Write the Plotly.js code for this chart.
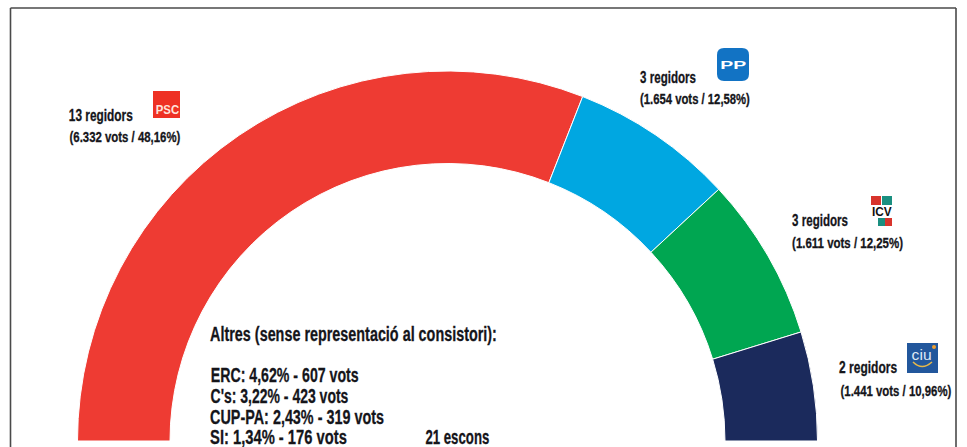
<!DOCTYPE html>
<html><head><meta charset="utf-8">
<script src="https://cdn.plot.ly/plotly-3.0.1.min.js"></script>
<style>html,body{margin:0;padding:0;width:967px;height:447px;overflow:hidden;background:#fff}</style>
</head><body><div id="c" style="width:967px;height:882px"></div>
<script>
const parties=['PSC','PP','ICV','CiU'];
const seats=[13,3,3,2];
const colors=['#ee3b33','#00a7e1','#00a651','#1b2a5c'];
const seatLabels=['13 regidors','3 regidors','3 regidors','2 regidors'];
const voteLabels=['(6.332 vots / 48,16%)','(1.654 vots / 12,58%)','(1.611 vots / 12,25%)','(1.441 vots / 10,96%)'];
const othersTitle='Altres (sense representació al consistori):';
const others=['ERC: 4,62% - 607 vots',"C's: 3,22% - 423 vots",'CUP-PA: 2,43% - 319 vots','SI: 1,34% - 176 vots'];
const totalLabel='21 escons';
const total=seats.reduce((a,b)=>a+b,0);

const W=967,H=882;
const px=x=>x/W, py=y=>1-y/H;
const FONT='"Liberation Sans",Arial,sans-serif';
const ink='#15151a';
const condensed=[];
const heavy=[];
// text placed by its left edge and its printed width; squeezed to that width after drawing
function note(text,left,width,y,size){
  condensed.push(width);heavy.push(true);
  return {text:text,x:px(left+width/2),y:py(y),xref:'paper',yref:'paper',xanchor:'center',yanchor:'middle',
    showarrow:false,borderpad:0,font:{family:FONT,size:size,color:ink,weight:700}};
}
function logoText(text,cx,y,size,color,weight,width){
  condensed.push(width);heavy.push(false);
  return {text:text,x:px(cx),y:py(y),xref:'paper',yref:'paper',xanchor:'center',yanchor:'middle',
    showarrow:false,borderpad:0,font:{family:FONT,size:size,color:color,weight:weight}};
}
function rect(x0,y0,x1,y1,fill){
  return {type:'rect',xref:'paper',yref:'paper',x0:px(x0),x1:px(x1),y0:py(y0),y1:py(y1),fillcolor:fill,line:{width:0},layer:'below'};
}
function frame(x0,y0,x1,y1){
  return {type:'line',xref:'paper',yref:'paper',x0:px(x0),x1:px(x1),y0:py(y0),y1:py(y1),line:{color:'#4a4a4a',width:1.6}};
}
const seatPos=[[69,64,115],[640,56,77],[792,56,220],[839,58,367]];
const votePos=[[69,111,136],[640,110,98],[792,111,242],[840,111,390]];
const otherPos=[[210,148,375],[210,138,395],[210,174,416],[210,137,437]];
const annotations=[];
parties.forEach((p,i)=>{
  annotations.push(note(seatLabels[i],seatPos[i][0],seatPos[i][1],seatPos[i][2],17));
  annotations.push(note(voteLabels[i],votePos[i][0],votePos[i][1],votePos[i][2],15));
});
annotations.push(note(othersTitle,210,287,333,21));
others.forEach((t,i)=>annotations.push(note(t,otherPos[i][0],otherPos[i][1],otherPos[i][2],21)));
annotations.push(note(totalLabel,425,64,437,20));
annotations.push(logoText('PSC',167,110,13,'#ffe3da',700,24));
annotations.push(logoText('PP',733,65,11,'#ffffff',700,26));
annotations.push(logoText('ICV',882,211,13,'#111111',700,20));
annotations.push(logoText('ciu',921,355,15,'#dfe9f5',400,20));

const P=(x,y)=>px(x)+' '+py(y);
const shapes=[
  frame(10.5,8,956,8),frame(10.5,8,10.5,447),frame(956,8,956,447),
  rect(153,91,180,118,'#ee3124'),
  {type:'path',xref:'paper',yref:'paper',layer:'below',fillcolor:'#1273c4',line:{width:0},
   path:'M '+P(724,48)+' L '+P(742,48)+' Q '+P(749,48)+' '+P(749,55)+' L '+P(749,74)+' Q '+P(749,81)+' '+P(742,81)+' L '+P(724,81)+' Q '+P(717,81)+' '+P(717,74)+' L '+P(717,55)+' Q '+P(717,48)+' '+P(724,48)+' Z'},
  rect(871,196,881,205,'#d8342c'),rect(882,196,892,205,'#1a8f80'),
  rect(872,218,878,226,'#ffffff'),rect(878,218,885,226,'#1a8f80'),rect(885,218,892,226,'#d8342c'),
  rect(907,343,938,373,'#22579c'),
  {type:'path',xref:'paper',yref:'paper',fillcolor:'rgba(0,0,0,0)',line:{color:'#e6b84a',width:1.5},
   path:'M '+P(913,362)+' Q '+P(922,371)+' '+P(932,362)},
  {type:'circle',xref:'paper',yref:'paper',x0:px(932),x1:px(936),y0:py(345),y1:py(349),fillcolor:'#f0a030',line:{width:0}}
];

const values=seats.concat([total]);
const sliceColors=colors.concat(['rgba(0,0,0,0)']);
const trace={type:'pie',values:values,labels:parties.concat(['hidden']),sort:false,direction:'clockwise',rotation:270,
  hole:277.5/370,textinfo:'none',hoverinfo:'skip',showlegend:false,
  marker:{colors:sliceColors,line:{color:['#fff','#fff','#fff','#fff','rgba(0,0,0,0)'],width:[1,1,1,1,0]}},
  domain:{x:[77.5/W,817.5/W],y:[1-811/H,1-71/H]}};
Plotly.newPlot('c',[trace],{width:W,height:H,margin:{l:0,r:0,t:0,b:0},paper_bgcolor:'#fff',showlegend:false,shapes:shapes,annotations:annotations},{staticPlot:true,displayModeBar:false}).then(()=>{
  document.querySelectorAll('#c .annotation').forEach((a,i)=>{
    const t=a.querySelector('text.annotation-text');
    if(t&&condensed[i]){
      const b=t.getBBox();
      const cx=b.x+b.width/2;
      const s=condensed[i]/b.width;
      const prev=t.getAttribute('transform')||'';
      t.setAttribute('transform',prev+' translate('+cx+',0) scale('+s+',1) translate('+(-cx)+',0)');
      if(heavy[i]){t.style.stroke=ink;t.style.strokeWidth='0.3px';}
    }
    // the empty box Plotly keeps around the unsqueezed text
    const bg=a.querySelector('rect.bg');
    if(bg&&condensed[i]){bg.setAttribute('width',0);bg.setAttribute('height',0);}
  });
});
</script></body></html>
